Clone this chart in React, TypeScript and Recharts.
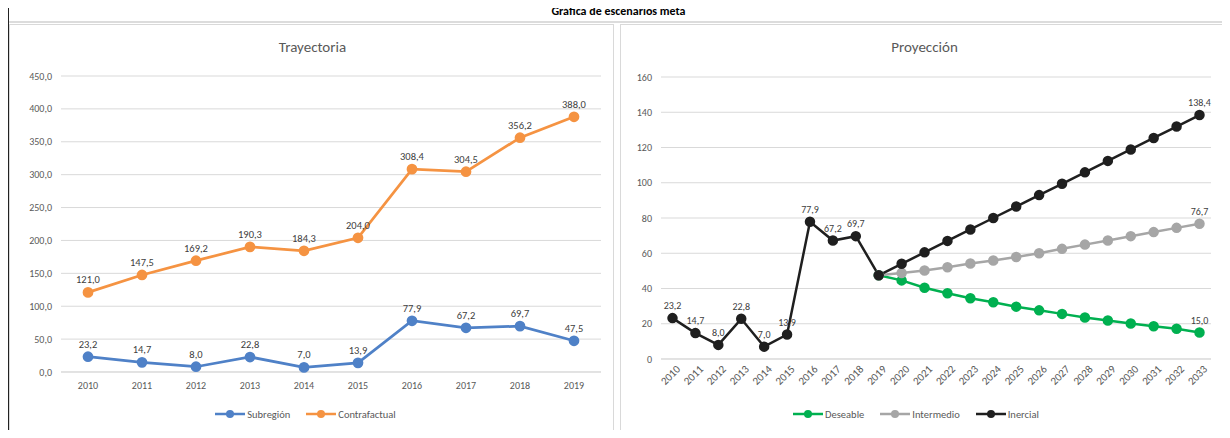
import { LineChart, Line, CartesianGrid, XAxis, YAxis, Legend, LabelList } from "recharts";

const FONT = "Carlito, 'Liberation Sans Narrow', 'Open Sans', sans-serif";

// Trayectoria
const years = ["2010", "2011", "2012", "2013", "2014", "2015", "2016", "2017", "2018", "2019"];
const subregion = [23.2, 14.7, 8.0, 22.8, 7.0, 13.9, 77.9, 67.2, 69.7, 47.5];
const contrafactual = [121.0, 147.5, 169.2, 190.3, 184.3, 204.0, 308.4, 304.5, 356.2, 388.0];
const leftTicks = [0, 50, 100, 150, 200, 250, 300, 350, 400, 450];

// Proyección
const projYears = [
  "2010", "2011", "2012", "2013", "2014", "2015", "2016", "2017", "2018", "2019", "2020", "2021",
  "2022", "2023", "2024", "2025", "2026", "2027", "2028", "2029", "2030", "2031", "2032", "2033",
];
const inercial = [
  23.2, 14.7, 8.0, 22.8, 7.0, 13.9, 77.9, 67.2, 69.7, 47.5, 54.0, 60.5,
  67.0, 73.5, 80.0, 86.5, 93.0, 99.4, 105.9, 112.4, 118.9, 125.4, 131.9, 138.4,
];
const intermedio = [
  null, null, null, null, null, null, null, null, null, 47.5, 48.8, 50.2,
  52.1, 54.2, 55.9, 57.9, 60.0, 62.5, 64.9, 67.2, 69.7, 72.0, 74.4, 76.7,
];
const deseable = [
  null, null, null, null, null, null, null, null, null, 47.5, 44.6, 40.4,
  37.3, 34.5, 32.2, 29.7, 27.6, 25.6, 23.5, 21.8, 20.1, 18.6, 17.2, 15.0,
];
const rightTicks = [0, 20, 40, 60, 80, 100, 120, 140, 160];

const trayectoria = years.map((y, i) => ({ year: y, subregion: subregion[i], contrafactual: contrafactual[i] }));
const proyeccion = projYears.map((y, i) => ({
  year: y,
  inercial: inercial[i],
  intermedio: intermedio[i],
  deseable: deseable[i],
}));

const fmt = (v: number) => v.toFixed(1).replace(".", ",");

const BLUE = "#4f81c7";
const ORANGE = "#f59342";
const GREEN = "#00b050";
const GRAY = "#a6a6a6";
const BLACK = "#1f1f1f";

function makeLabel(show: (i: number) => boolean, size: number) {
  return (props: any) => {
    const { x, y, value, index } = props;
    if (value == null || !show(index)) return null;
    return (
      <text x={x} y={y - 9} textAnchor="middle" fontSize={size} fontFamily={FONT} fill="#404040">
        {fmt(value)}
      </text>
    );
  };
}

function LegendContent({ items }: { items: { name: string; color: string }[] }) {
  return (
    <div style={{ display: "flex", justifyContent: "center", gap: 16, height: 20, alignItems: "center" }}>
      {items.map((it) => (
        <div key={it.name} style={{ display: "flex", alignItems: "center", fontFamily: FONT, fontSize: 10.5, color: "#595959" }}>
          <svg width={30} height={10}>
            <line x1={0} y1={5} x2={30} y2={5} stroke={it.color} strokeWidth={2.5} />
            <circle cx={15} cy={5} r={4} fill={it.color} />
          </svg>
          <span style={{ marginLeft: 2 }}>{it.name}</span>
        </div>
      ))}
    </div>
  );
}

function RotatedTick(props: any) {
  const { x, y, payload } = props;
  return (
    <g transform={`translate(${x},${y})`}>
      <text x={4} y={8} textAnchor="end" fontSize={11} fontFamily={FONT} fill="#595959" transform="rotate(-45)">
        {payload.value}
      </text>
    </g>
  );
}

const tickStyle = { fontSize: 10, fill: "#595959", fontFamily: FONT };

export default function App() {
  return (
    <div style={{ position: "relative", width: 1230, height: 438, margin: -8, background: "#fff", overflow: "hidden" }}>
      {/* sheet frame */}
      <div style={{ position: "absolute", left: 8, top: 1, width: 1220, height: 2, background: "#a6a6a6" }} />
      {[262, 555, 853].map((x) => (
        <div key={x} style={{ position: "absolute", left: x, top: 0, width: 1, height: 4, background: "#a6a6a6" }} />
      ))}
      <div style={{ position: "absolute", left: 6, top: 0, width: 3, height: 438, background: "#222" }} />
      <div style={{ position: "absolute", left: 9, top: 21, width: 1219, height: 2, background: "#dcdcdc" }} />
      <div
        style={{
          position: "absolute", left: 9, top: 4, width: 1219, textAlign: "center",
          fontFamily: FONT, fontWeight: "bold", fontSize: 12, color: "#000",
        }}
      >
        Gráfica de escenarios meta
      </div>

      {/* left panel */}
      <div style={{ position: "absolute", left: 9, top: 24, width: 605, height: 409, border: "1px solid #d9d9d9", boxSizing: "border-box" }}>
        <div style={{ position: "absolute", left: 0, top: 13, width: 605, textAlign: "center", fontFamily: FONT, fontSize: 15, color: "#595959" }}>
          Trayectoria
        </div>
        <LineChart width={605} height={409} data={trayectoria} margin={{ top: 51, right: 14, left: 0, bottom: 10 }}>
          <CartesianGrid vertical={false} stroke="#d9d9d9" />
          <XAxis
            dataKey="year" height={32} padding={{ left: 27, right: 27 }}
            tickLine={false} axisLine={{ stroke: "#d9d9d9" }} tick={tickStyle} tickMargin={4}
          />
          <YAxis
            width={51} domain={[0, 450]} ticks={leftTicks} tickFormatter={fmt}
            tickLine={false} axisLine={false} tick={tickStyle} tickMargin={3}
          />
          <Legend
            content={() => (
              <LegendContent items={[{ name: "Subregión", color: BLUE }, { name: "Contrafactual", color: ORANGE }]} />
            )}
          />
          <Line dataKey="subregion" name="Subregión" stroke={BLUE} strokeWidth={2.75} dot={{ r: 4, fill: BLUE, stroke: BLUE }} isAnimationActive={false}>
            <LabelList dataKey="subregion" content={makeLabel(() => true, 10.5)} />
          </Line>
          <Line dataKey="contrafactual" name="Contrafactual" stroke={ORANGE} strokeWidth={2.75} dot={{ r: 4, fill: ORANGE, stroke: ORANGE }} isAnimationActive={false}>
            <LabelList dataKey="contrafactual" content={makeLabel(() => true, 10.5)} />
          </Line>
        </LineChart>
      </div>

      {/* right panel */}
      <div style={{ position: "absolute", left: 620, top: 24, width: 607, height: 409, border: "1px solid #d9d9d9", boxSizing: "border-box" }}>
        <div style={{ position: "absolute", left: 0, top: 13, width: 607, textAlign: "center", fontFamily: FONT, fontSize: 15, color: "#595959" }}>
          Proyección
        </div>
        <LineChart width={607} height={409} data={proyeccion} margin={{ top: 52, right: 17, left: 0, bottom: 10 }}>
          <CartesianGrid vertical={false} stroke="#d9d9d9" />
          <XAxis
            dataKey="year" height={45} interval={0} padding={{ left: 11.5, right: 11.5 }}
            tickLine={false} axisLine={{ stroke: "#d9d9d9" }} tick={<RotatedTick />}
          />
          <YAxis width={40} domain={[0, 160]} ticks={rightTicks} tickLine={false} axisLine={false} tick={tickStyle} tickMargin={3} />
          <Legend
            content={() => (
              <LegendContent
                items={[
                  { name: "Deseable", color: GREEN },
                  { name: "Intermedio", color: GRAY },
                  { name: "Inercial", color: BLACK },
                ]}
              />
            )}
          />
          <Line dataKey="deseable" name="Deseable" stroke={GREEN} strokeWidth={2.5} dot={{ r: 4, fill: GREEN, stroke: GREEN }} isAnimationActive={false}>
            <LabelList dataKey="deseable" content={makeLabel((i) => i === 23, 10)} />
          </Line>
          <Line dataKey="intermedio" name="Intermedio" stroke={GRAY} strokeWidth={2.5} dot={{ r: 4, fill: GRAY, stroke: GRAY }} isAnimationActive={false}>
            <LabelList dataKey="intermedio" content={makeLabel((i) => i === 23, 10)} />
          </Line>
          <Line dataKey="inercial" name="Inercial" stroke={BLACK} strokeWidth={2.5} dot={{ r: 4, fill: BLACK, stroke: BLACK }} isAnimationActive={false}>
            <LabelList dataKey="inercial" content={makeLabel((i) => i < 9 || i === 23, 10)} />
          </Line>
        </LineChart>
      </div>
    </div>
  );
}
